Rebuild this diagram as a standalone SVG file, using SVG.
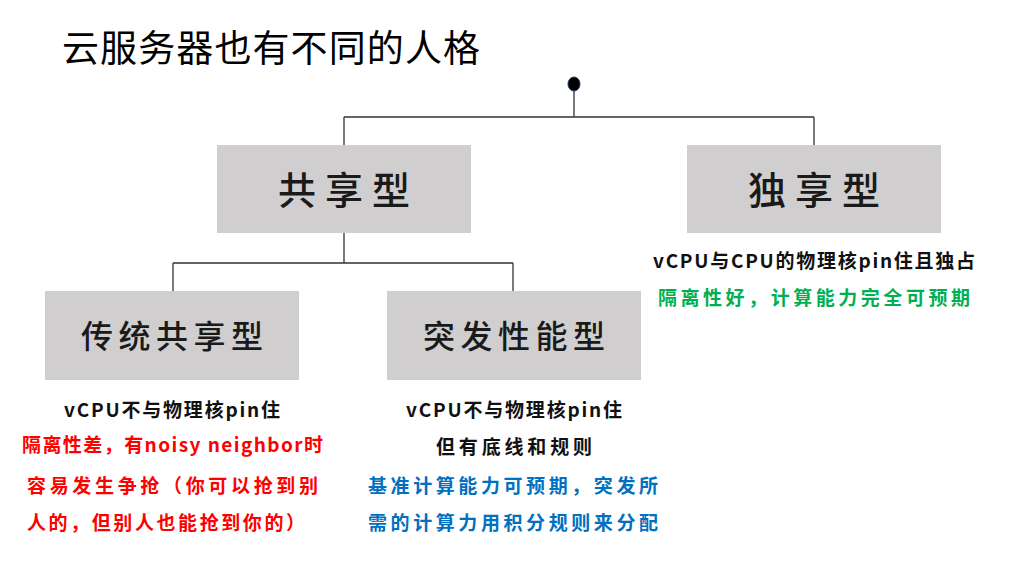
<svg xmlns="http://www.w3.org/2000/svg" width="1024" height="576" viewBox="0 0 1024 576">
<style>
.box{fill:#d0cece}
.big{font-family:"Noto Sans CJK SC",sans-serif;font-size:38px;fill:#1a1a1a;text-anchor:middle;font-weight:500}
.mid{font-family:"Noto Sans CJK SC",sans-serif;font-size:32px;fill:#1a1a1a;text-anchor:middle;font-weight:500}
.sm{font-family:"Noto Sans CJK SC",sans-serif;font-size:19px;font-weight:bold}
.k{fill:#111}
.r{fill:#ff0000}
.g{fill:#00b050}
.b{fill:#0070c0}
.ln{stroke:#333;stroke-width:1.3;fill:none}
</style>
<rect width="1024" height="576" fill="#fff"/>
<text x="62" y="62" font-family="'Noto Sans CJK SC',sans-serif" font-size="37" fill="#000" textLength="418" lengthAdjust="spacing">云服务器也有不同的人格</text>
<g id="connectors">
<ellipse cx="574" cy="84" rx="6" ry="7" fill="#000" stroke="#1f3864" stroke-width="1"/>
<path class="ln" d="M574 91V117M344 117H814M344 117V145M814 117V145"/>
<path class="ln" d="M344 233V263M173 263H513M173 263V291M513 263V291"/>
</g>
<g id="shared">
<rect class="box" x="217" y="145" width="254" height="88"/>
<text class="big" x="344" y="204" textLength="132" lengthAdjust="spacing">共享型</text>
</g>
<g id="dedicated">
<rect class="box" x="687" y="145" width="254" height="88"/>
<text class="big" x="814" y="204" textLength="132" lengthAdjust="spacing">独享型</text>
<text class="sm k" x="814" y="268" text-anchor="middle" textLength="322" lengthAdjust="spacing">vCPU与CPU的物理核pin住且独占</text>
<text class="sm g" x="814" y="305" text-anchor="middle" textLength="312" lengthAdjust="spacing">隔离性好，计算能力完全可预期</text>
</g>
<g id="traditional">
<rect class="box" x="45" y="291" width="254" height="89"/>
<text class="mid" x="172" y="348" textLength="182" lengthAdjust="spacing">传统共享型</text>
<text class="sm k" x="172" y="417" text-anchor="middle" textLength="216" lengthAdjust="spacing">vCPU不与物理核pin住</text>
<text class="sm r" x="22" y="452" textLength="301" lengthAdjust="spacing">隔离性差，有noisy neighbor时</text>
<text class="sm r" x="27" y="493" textLength="291" lengthAdjust="spacing">容易发生争抢（你可以抢到别</text>
<text class="sm r" x="27" y="530" textLength="278" lengthAdjust="spacing">人的，但别人也能抢到你的）</text>
</g>
<g id="burstable">
<rect class="box" x="387" y="291" width="254" height="89"/>
<text class="mid" x="514" y="348" textLength="182" lengthAdjust="spacing">突发性能型</text>
<text class="sm k" x="514" y="417" text-anchor="middle" textLength="216" lengthAdjust="spacing">vCPU不与物理核pin住</text>
<text class="sm k" x="514" y="454" text-anchor="middle" textLength="156" lengthAdjust="spacing">但有底线和规则</text>
<text class="sm b" x="368" y="493" textLength="290" lengthAdjust="spacing">基准计算能力可预期，突发所</text>
<text class="sm b" x="368" y="530" textLength="290" lengthAdjust="spacing">需的计算力用积分规则来分配</text>
</g>
</svg>
